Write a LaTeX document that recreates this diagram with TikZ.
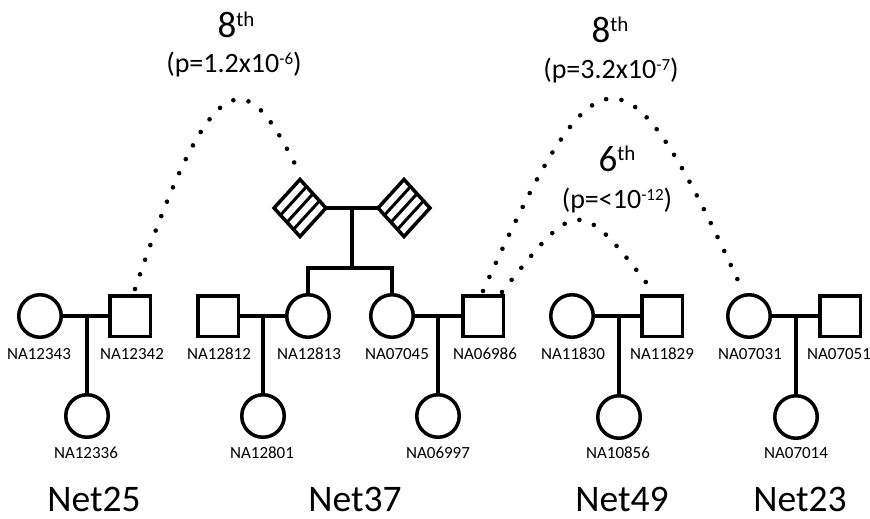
\documentclass[tikz,border=0pt]{standalone}
\usepackage{fontspec}
\setmainfont{Carlito}
\usetikzlibrary{shapes.geometric,calc}
\begin{document}
\begin{tikzpicture}[x=1pt,y=-1pt,line width=3.5pt,
  female/.style={circle,draw,minimum size=42.5pt,inner sep=0pt},
  male/.style={rectangle,draw,minimum size=40.5pt,inner sep=0pt},
  twin/.style={diamond,draw,minimum width=52pt,minimum height=57pt,inner sep=0pt,outer sep=0pt},
  lab/.style={anchor=base,font=\fontsize{17}{17}\selectfont,inner sep=0pt},
  net/.style={anchor=base,font=\fontsize{37.5}{37.5}\selectfont,inner sep=0pt},
  big/.style={anchor=base,font=\fontsize{37}{37}\selectfont,inner sep=0pt},
  pval/.style={anchor=base,font=\fontsize{28}{28}\selectfont,inner sep=0pt},
  link/.style={line width=4.6pt,line cap=round,dash pattern=on 0pt off 15.5pt},
  hatch/.style={line width=3pt}]
\useasboundingbox (0,0) rectangle (870,519);

% ---------- Net25 ----------
\node[female] (c12343) at (40,316) {};
\node[male]   (s12342) at (130,316) {};
\node[female] (c12336) at (87,416) {};
\coordinate (m25) at (87,316);
\draw (c12343) -- (s12342);
\draw (m25) -- (c12336.north);
\node[lab] (l12343) at (39,359) {NA12343};
\node[lab] (l12342) at (132,359) {NA12342};
\node[lab] (l12336) at (86,458) {NA12336};

% ---------- Net37 ----------
\node[twin] (d1) at (300,208) {};
\node[twin] (d2) at (404,208) {};
\foreach \k in {0.25,0.5,0.75}{
  \draw[hatch] ($(d1.west)!\k!(d1.south)$) -- ($(d1.north)!\k!(d1.east)$);
  \draw[hatch] ($(d2.west)!\k!(d2.south)$) -- ($(d2.north)!\k!(d2.east)$);
}
\draw (d1.east) -- (d2.west);
\coordinate (pm) at (352,208);
\coordinate (sib) at (352,268);
\draw (pm) -- (sib);

\node[male]   (s12812) at (218,316) {};
\node[female] (c12813) at (308,316) {};
\node[female] (c12801) at (263,416) {};
\coordinate (m37a) at (263,316);
\draw (s12812) -- (c12813);
\draw (m37a) -- (c12801.north);

\node[female] (c07045) at (392,316) {};
\node[male]   (s06986) at (483,316) {};
\node[female] (c06997) at (438,416) {};
\coordinate (m37b) at (438,316);
\draw (c07045) -- (s06986);
\draw (m37b) -- (c06997.north);

\coordinate (sibL) at (308,268);
\coordinate (sibR) at (392,268);
\draw (c12813.north) -- (sibL) -- (sibR) -- (c07045.north);

\node[lab] (l12812) at (219,359) {NA12812};
\node[lab] (l12813) at (309,359) {NA12813};
\node[lab] (l12801) at (262,458) {NA12801};
\node[lab] (l07045) at (397,359) {NA07045};
\node[lab] (l06986) at (485,359) {NA06986};
\node[lab] (l06997) at (438,458) {NA06997};

% ---------- Net49 ----------
\node[female] (c11830) at (572,316) {};
\node[male]   (s11829) at (662,316) {};
\node[female] (c10856) at (619,417) {};
\coordinate (m49) at (619,316);
\draw (c11830) -- (s11829);
\draw (m49) -- (c10856.north);
\node[lab] (l11830) at (573,359) {NA11830};
\node[lab] (l11829) at (662,359) {NA11829};
\node[lab] (l10856) at (618,458) {NA10856};

% ---------- Net23 ----------
\node[female] (c07031) at (749,316) {};
\node[male]   (s07051) at (840,316) {};
\node[female] (c07014) at (796,417) {};
\coordinate (m23) at (796,316);
\draw (c07031) -- (s07051);
\draw (m23) -- (c07014.north);
\node[lab] (l07031) at (750,359) {NA07031};
\node[lab] (l07051) at (839,359) {NA07051};
\node[lab] (l07014) at (796,458) {NA07014};

% ---------- relationship arcs ----------
\coordinate (a1s) at (135,289);
\coordinate (a1e) at (299,172);
\draw[link] (a1s) .. controls (219,40) and (251,76) .. (a1e);
\coordinate (a2s) at (483,291);
\coordinate (a2e) at (741,287);
\draw[link] (a2s) .. controls (599,35) and (625,35) .. (a2e);
\coordinate (a3s) at (502,292);
\coordinate (a3e) at (652,290);
\draw[link] (a3s) .. controls (578,196) and (579,196) .. (a3e);

% ---------- labels ----------
\node[big]  (o1) at (236,38) {8\raisebox{11pt}{\fontsize{21}{21}\selectfont th}};
\node[pval] (p1) at (234,73) {(p=1.2x10\raisebox{8pt}{\fontsize{17}{17}\selectfont -6})};
\node[big]  (o2) at (610,43) {8\raisebox{11pt}{\fontsize{21}{21}\selectfont th}};
\node[pval] (p2) at (611,78) {(p=3.2x10\raisebox{8pt}{\fontsize{17}{17}\selectfont -7})};
\node[big]  (o3) at (617,171) {6\raisebox{11pt}{\fontsize{21}{21}\selectfont th}};
\node[pval] (p3) at (617,208) {(p=<10\raisebox{8pt}{\fontsize{17}{17}\selectfont -12})};

\node[net] (n25) at (94,511) {Net25};
\node[net] (n37) at (355,511) {Net37};
\node[net] (n49) at (622,511) {Net49};
\node[net] (n23) at (800,511) {Net23};
\end{tikzpicture}
\end{document}
